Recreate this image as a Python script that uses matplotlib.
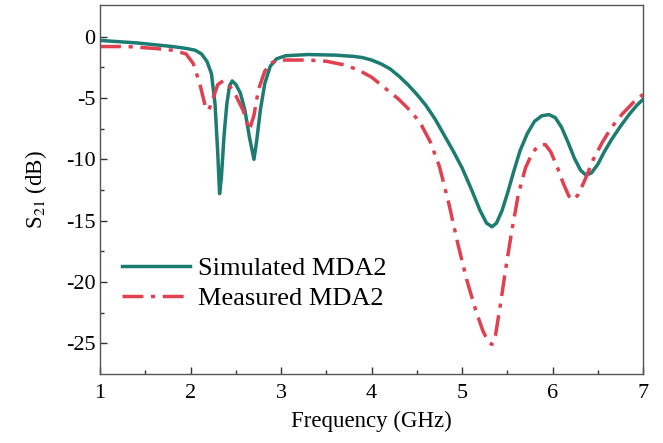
import matplotlib
matplotlib.use("Agg")
import matplotlib.pyplot as plt

# simulated S21
freq_sim = [1.00, 1.20, 1.40, 1.60, 1.80, 1.95, 2.05, 2.12, 2.18, 2.23, 2.27, 2.30, 2.32,
            2.34, 2.37, 2.40, 2.43, 2.46, 2.50, 2.55, 2.60, 2.65, 2.70, 2.73, 2.77, 2.82,
            2.88, 2.95, 3.05, 3.30, 3.60, 3.80, 3.90, 4.00, 4.10, 4.20, 4.30, 4.40, 4.50,
            4.60, 4.70, 4.80, 4.90, 5.00, 5.10, 5.20, 5.27, 5.33, 5.38, 5.44, 5.50, 5.57,
            5.64, 5.72, 5.80, 5.88, 5.96, 6.03, 6.10, 6.17, 6.24, 6.31, 6.37, 6.43, 6.50,
            6.57, 6.65, 6.75, 6.85, 6.93, 7.00]
s21_sim = [-0.3, -0.4, -0.5, -0.65, -0.8, -0.95, -1.1, -1.4, -2.0, -3.0, -5.5, -9.5, -12.8,
           -11.5, -8.0, -5.5, -4.0, -3.6, -3.9, -4.6, -6.0, -8.2, -10.0, -8.5, -6.0, -3.8,
           -2.4, -1.8, -1.55, -1.45, -1.5, -1.6, -1.7, -1.9, -2.2, -2.6, -3.2, -3.9, -4.7,
           -5.6, -6.7, -8.0, -9.3, -10.7, -12.4, -14.2, -15.2, -15.5, -15.2, -14.2, -12.8, -11.0,
           -9.3, -7.9, -6.9, -6.45, -6.35, -6.6, -7.4, -8.6, -9.9, -10.9, -11.3, -11.1, -10.4,
           -9.4, -8.4, -7.3, -6.3, -5.6, -5.1]

# measured S21
freq_meas = [1.00, 1.30, 1.60, 1.80, 1.95, 2.03, 2.10, 2.16, 2.20, 2.24, 2.30, 2.36, 2.42,
             2.50, 2.58, 2.65, 2.70, 2.75, 2.82, 2.90, 3.00, 3.30, 3.50, 3.70, 3.85, 4.00,
             4.15, 4.30, 4.45, 4.55, 4.65, 4.75, 4.85, 4.95, 5.05, 5.15, 5.23, 5.29, 5.33,
             5.37, 5.42, 5.48, 5.55, 5.62, 5.70, 5.78, 5.86, 5.92, 5.98, 6.05, 6.12, 6.18,
             6.23, 6.28, 6.35, 6.45, 6.55, 6.65, 6.77, 6.90, 7.00]
s21_meas = [-0.8, -0.8, -0.95, -1.1, -1.4, -2.2, -3.8, -5.6, -6.0, -5.2, -3.9, -3.6, -3.9,
            -4.8, -6.0, -7.6, -6.4, -4.3, -2.8, -2.1, -1.9, -1.9, -2.0, -2.3, -2.7, -3.3,
            -4.2, -5.1, -6.2, -7.2, -8.6, -10.6, -13.5, -16.8, -19.8, -22.3, -24.0, -24.9, -25.1,
            -24.3, -22.0, -19.0, -15.8, -12.9, -10.7, -9.4, -8.8, -8.8, -9.4, -10.6, -12.0, -13.0,
            -13.3, -12.9, -11.8, -10.0, -8.6, -7.4, -6.3, -5.3, -4.7]

plt.rcParams['font.family'] = ['Liberation Serif', 'DejaVu Serif']
plt.rcParams['mathtext.fontset'] = 'stix'
plt.rcParams['axes.unicode_minus'] = False

fig = plt.figure(figsize=(6.63, 4.43), dpi=100)
ax = fig.add_axes([0.151, 0.156, 0.819, 0.833])

ax.plot(freq_sim, s21_sim, color='#1d7c72', linewidth=2.5, label='Simulated MDA2')
ax.plot(freq_meas, s21_meas, color='#e0404f', linewidth=2.5,
        linestyle=(0, (6, 2.2, 1.2, 2.2)), label='Measured MDA2')

ax.set_xlim(1, 7)
ax.set_ylim(-27.5, 2.6)
ax.set_xticks([1, 2, 3, 4, 5, 6, 7])
ax.set_xticks([1.5, 2.5, 3.5, 4.5, 5.5, 6.5], minor=True)
ax.set_yticks([0, -5, -10, -15, -20, -25])
ax.set_yticks([-2.5, -7.5, -12.5, -17.5, -22.5], minor=True)
ax.tick_params(direction='in', which='major', length=5, width=1, labelsize=16,
               colors='#333333', labelcolor='black')
ax.tick_params(axis='x', which='major', pad=7)
ax.tick_params(direction='in', which='minor', length=3, width=1, colors='#333333')
for s in ax.spines.values():
    s.set_color('#555555')
    s.set_linewidth(1)

ax.set_xlabel('Frequency (GHz)', fontsize=16.5, labelpad=6)
ax.set_ylabel('S$_{21}$ (dB)', fontsize=16.5, labelpad=12)

ax.legend(loc='center left', bbox_to_anchor=(0.04, 0.245), frameon=False, fontsize=19,
          handlelength=2.6, handletextpad=0.27, labelspacing=0.25,
          borderpad=0, borderaxespad=0)

fig.savefig('out.png', dpi=100)
